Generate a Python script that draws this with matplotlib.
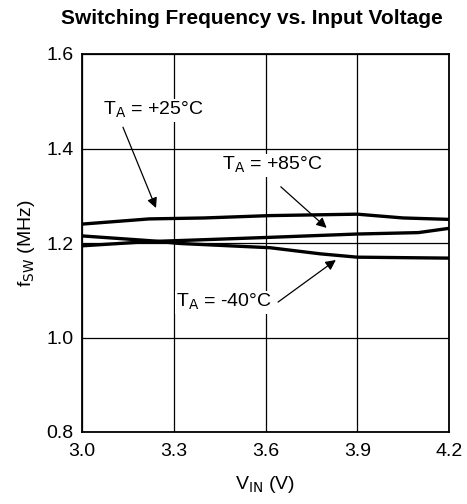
import matplotlib
matplotlib.use("Agg")
import matplotlib.pyplot as plt
import numpy as np

plt.rcParams['font.family'] = ['Liberation Sans', 'DejaVu Sans']

# data
v_25 = [3.0, 3.22, 3.4, 3.615, 3.9, 4.05, 4.2]
f_25 = [1.240, 1.251, 1.253, 1.258, 1.261, 1.253, 1.250]

v_85 = [3.0, 3.22, 3.4, 3.615, 3.9, 4.1, 4.2]
f_85 = [1.194, 1.203, 1.207, 1.212, 1.219, 1.222, 1.231]

v_m40 = [3.0, 3.22, 3.32, 3.615, 3.78, 3.9, 4.2]
f_m40 = [1.215, 1.205, 1.199, 1.190, 1.177, 1.170, 1.168]

xticks = [3.0, 3.3, 3.6, 3.9, 4.2]
yticks = [0.8, 1.0, 1.2, 1.4, 1.6]

fs = 14

fig = plt.figure(figsize=(4.67, 5.04), dpi=100)
ax = fig.add_axes([82/467, 1-432/504, 367/467, 378/504])

ax.plot(v_25, f_25, color='black', lw=2.4)
ax.plot(v_85, f_85, color='black', lw=2.4)
ax.plot(v_m40, f_m40, color='black', lw=2.4)

ax.set_xlim(3.0, 4.2)
ax.set_ylim(0.8, 1.6)
ax.set_xticks(xticks)
ax.set_yticks(yticks)
ax.set_xticklabels(["%.1f" % t for t in xticks], fontsize=fs)
ax.set_yticklabels(["%.1f" % t for t in yticks], fontsize=fs)
ax.tick_params(axis='x', length=0, pad=8)
ax.tick_params(axis='y', length=0, pad=6)
ax.grid(True, color='black', lw=0.9)
ax.set_axisbelow(True)
for s in ax.spines.values():
    s.set_linewidth(1.3)

ax.set_xlabel(r"V$_{\mathrm{IN}}$ (V)", fontsize=fs, labelpad=10)
ax.set_ylabel(r"f$_{\mathrm{SW}}$ (MHz)", fontsize=fs, labelpad=7)
fig.text(252/467, 1-18/504, "Switching Frequency vs. Input Voltage",
         ha='center', va='center', fontsize=15, fontweight='bold')

box = dict(facecolor='white', edgecolor='none', pad=1)
arrow = dict(arrowstyle='-|>', color='black', lw=0.9, mutation_scale=15,
             shrinkA=0, shrinkB=0)

ax.annotate("", xy=(3.242, 1.274), xytext=(3.134, 1.445),
            arrowprops=arrow, annotation_clip=False)
ax.text(3.069, 1.481, r"T$_\mathrm{A}$ = +25°C", fontsize=fs, va='center', bbox=box)

ax.annotate("", xy=(3.80, 1.232), xytext=(3.65, 1.319),
            arrowprops=arrow)
ax.text(3.457, 1.365, r"T$_\mathrm{A}$ = +85°C", fontsize=fs, va='center', bbox=box)

ax.annotate("", xy=(3.83, 1.164), xytext=(3.641, 1.075),
            arrowprops=arrow)
ax.text(3.307, 1.075, r"T$_\mathrm{A}$ = -40°C", fontsize=fs, va='center', bbox=box)

fig.savefig("out.png", dpi=100)
